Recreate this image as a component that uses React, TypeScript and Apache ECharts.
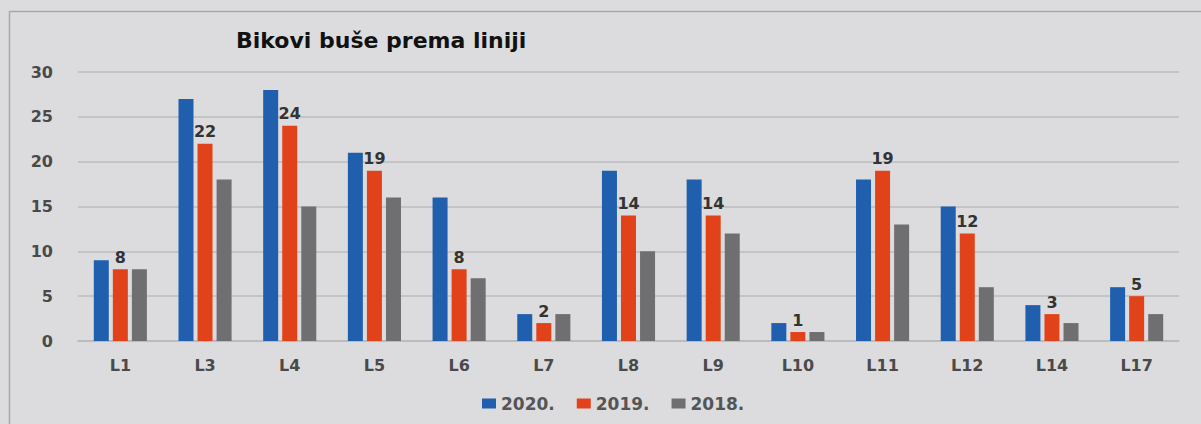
import React, { useEffect, useRef } from "react";
import * as echarts from "echarts";

const categories = ["L1", "L3", "L4", "L5", "L6", "L7", "L8", "L9", "L10", "L11", "L12", "L14", "L17"];
const s2020 = [9, 27, 28, 21, 16, 3, 19, 18, 2, 18, 15, 4, 6];
const s2019 = [8, 22, 24, 19, 8, 2, 14, 14, 1, 19, 12, 3, 5];
const s2018 = [8, 18, 15, 16, 7, 3, 10, 12, 1, 13, 6, 2, 3];
const seriesNames = ["2020.", "2019.", "2018."];
const yTicks = [0, 5, 10, 15, 20, 25, 30];

export default function App() {
  const ref = useRef<HTMLDivElement>(null);
  useEffect(() => {
    if (!ref.current) return;
    const chart = echarts.init(ref.current, null, { renderer: "svg" });
    const font = "'DejaVu Sans', sans-serif";
    chart.setOption({
      animation: false,
      backgroundColor: "#dcdcde",
      title: {
        text: "Bikovi buše prema liniji",
        left: 231,
        top: 24,
        textStyle: { fontFamily: font, fontWeight: "bold", fontSize: 22, color: "#111" },
      },
      graphic: [
        {
          type: "rect",
          shape: { x: 9.5, y: 11.5, width: 1300, height: 500 },
          style: { fill: "none", stroke: "#a8a8aa", lineWidth: 1.5 },
          silent: true,
        },
      ],
      legend: {
        data: seriesNames,
        left: 477,
        top: 390,
        itemWidth: 14,
        itemHeight: 10,
        itemGap: 22,
        icon: "rect",
        textStyle: { fontFamily: font, fontSize: 17, fontWeight: "bold", color: "#555" },
      },
      grid: { left: 78, right: 22, top: 72, bottom: 83, containLabel: false },
      xAxis: {
        type: "category",
        data: categories,
        axisLine: { lineStyle: { color: "#b8b8b8", width: 1.5 } },
        axisTick: { show: false },
        axisLabel: { fontFamily: font, fontSize: 16, fontWeight: "bold", color: "#4a4a4a", margin: 16 },
      },
      yAxis: {
        type: "value",
        min: yTicks[0],
        max: yTicks[yTicks.length - 1],
        interval: 5,
        axisLine: { show: false },
        axisTick: { show: false },
        axisLabel: { fontFamily: font, fontSize: 16, fontWeight: "bold", color: "#4a4a4a", margin: 25 },
        splitLine: { lineStyle: { color: "#bcbcbe", width: 1.5 } },
      },
      series: [
        {
          name: seriesNames[0],
          type: "bar",
          data: s2020,
          barWidth: 15,
          barGap: "27%",
          itemStyle: { color: "#1f5fae" },
        },
        {
          name: seriesNames[1],
          type: "bar",
          data: s2019,
          barWidth: 15,
          barGap: "27%",
          itemStyle: { color: "#e2421a" },
          label: {
            show: true,
            position: "top",
            distance: 4,
            fontFamily: font,
            fontSize: 16,
            fontWeight: "bold",
            color: "#333",
          },
        },
        {
          name: seriesNames[2],
          type: "bar",
          data: s2018,
          barWidth: 15,
          barGap: "27%",
          itemStyle: { color: "#6f6f71" },
        },
      ],
    });
    return () => chart.dispose();
  }, []);
  return <div ref={ref} style={{ position: "absolute", left: 0, top: 0, width: 1201, height: 424 }} />;
}
